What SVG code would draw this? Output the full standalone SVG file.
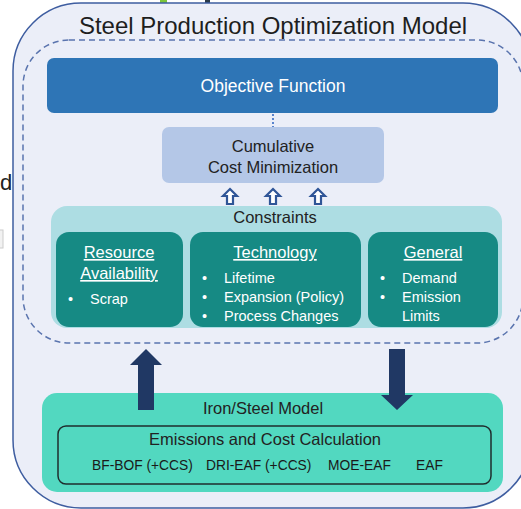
<svg xmlns="http://www.w3.org/2000/svg" width="521" height="509" viewBox="0 0 521 509">
<style>
text{font-family:"Liberation Sans",Arial,sans-serif}
.t16{font-size:16.5px;fill:#222}
.w16{font-size:16.5px;fill:#fff}
.w14{font-size:14.5px;fill:#fff}
.b13{font-size:13.8px;fill:#1a1a1a}
.inner{fill:#168A84}
.hollow{fill:#fff;stroke:#2F5597;stroke-width:2.2;stroke-linejoin:miter}
.solid{fill:#203864}
</style>
<rect width="521" height="509" fill="#fff"/>
<!-- crop artifacts -->
<rect x="160" y="0" width="7" height="3" fill="#7CC63A"/>
<rect x="205" y="0" width="5" height="3" fill="#2A3A4A"/>
<text x="0" y="190" style="font-size:22px;fill:#222">d</text>
<rect x="-2" y="230" width="5" height="18" fill="#f2f2f2" stroke="#ccc" stroke-width="1"/>
<g id="outer">
<rect x="13" y="3" width="518" height="505" rx="68" ry="68" fill="#EBEEF8" stroke="#3E5DA0" stroke-width="1.5"/>
<text x="273" y="34" text-anchor="middle" style="font-size:24px;fill:#1e1e1e">Steel Production Optimization Model</text>
</g>
<g id="opt-frame">
<rect x="23" y="40" width="500" height="303" rx="46" ry="46" fill="none" stroke="#5A74AE" stroke-width="1.5" stroke-dasharray="6,4"/>
</g>
<g id="objective">
<rect x="47" y="58" width="451" height="55" rx="7" fill="#2E75B6"/>
<text x="273" y="92" text-anchor="middle" style="font-size:17.5px;fill:#fff">Objective Function</text>
</g>
<g id="cost">
<rect x="162" y="127" width="222" height="56" rx="7" fill="#B4C7E7"/>
<text x="273" y="152" text-anchor="middle" class="t16">Cumulative</text>
<text x="273" y="173" text-anchor="middle" class="t16">Cost Minimization</text>
</g>
<g id="constraints">
<rect x="51" y="206" width="451" height="122" rx="16" fill="#ADDDE3"/>
<text x="275" y="223" text-anchor="middle" class="t16">Constraints</text>
</g>
<g id="resource">
<rect x="56" y="232" width="127" height="95" rx="13" class="inner"/>
<text x="119" y="258" text-anchor="middle" class="w16" text-decoration="underline">Resource</text>
<text x="119" y="279" text-anchor="middle" class="w16" text-decoration="underline">Availability</text>
<text x="68" y="304" class="w14">•</text>
<text x="90" y="304" class="w14">Scrap</text>
</g>
<g id="technology">
<rect x="190" y="232" width="171" height="95" rx="13" class="inner"/>
<text x="275" y="258" text-anchor="middle" class="w16" text-decoration="underline">Technology</text>
<text x="202" y="283" class="w14">•</text>
<text x="224" y="283" class="w14">Lifetime</text>
<text x="202" y="302" class="w14">•</text>
<text x="224" y="302" class="w14">Expansion (Policy)</text>
<text x="202" y="321" class="w14">•</text>
<text x="224" y="321" class="w14">Process Changes</text>
</g>
<g id="general">
<rect x="368" y="232" width="130" height="95" rx="13" class="inner"/>
<text x="433" y="258" text-anchor="middle" class="w16" text-decoration="underline">General</text>
<text x="380" y="283" class="w14">•</text>
<text x="402" y="283" class="w14">Demand</text>
<text x="380" y="302" class="w14">•</text>
<text x="402" y="302" class="w14">Emission</text>
<text x="402" y="321" class="w14">Limits</text>
</g>
<g id="ironsteel">
<rect x="42" y="393" width="461" height="99" rx="15" fill="#52D8C0"/>
<text x="263" y="414" text-anchor="middle" class="t16">Iron/Steel Model</text>
<rect x="58" y="426" width="433" height="58" rx="8" fill="none" stroke="#1F2D2D" stroke-width="1.5"/>
<text x="265" y="445" text-anchor="middle" class="t16">Emissions and Cost Calculation</text>
<text x="92" y="470" class="b13">BF-BOF (+CCS)</text>
<text x="206" y="470" class="b13">DRI-EAF (+CCS)</text>
<text x="328" y="470" class="b13">MOE-EAF</text>
<text x="416" y="470" class="b13">EAF</text>
</g>
<g id="connectors">
<line x1="273" y1="114" x2="273" y2="127" stroke="#4A78C8" stroke-width="1.8" stroke-dasharray="2,2"/>
<path class="hollow" d="M230,189 L237,196 L233,196 L233,204 L227,204 L227,196 L223,196 Z"/>
<path class="hollow" d="M273,189 L280,196 L276,196 L276,204 L270,204 L270,196 L266,196 Z"/>
<path class="hollow" d="M318,189 L325,196 L321,196 L321,204 L315,204 L315,196 L311,196 Z"/>
<path class="solid" d="M146,349 L162,365 L154,365 L154,410 L138,410 L138,365 L130,365 Z"/>
<path class="solid" d="M389,349 L405,349 L405,395 L413,395 L397,410 L381,395 L389,395 Z"/>
</g>
</svg>
